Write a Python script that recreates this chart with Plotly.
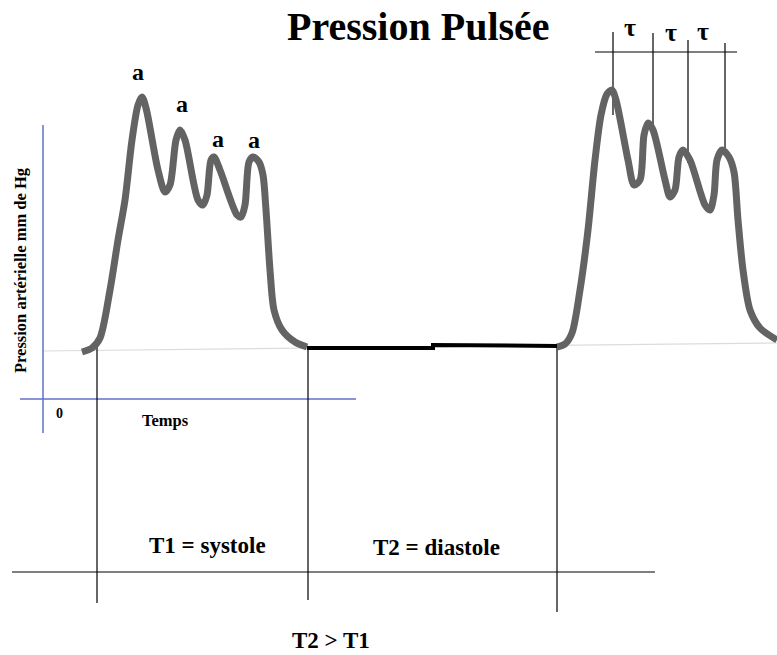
import plotly.graph_objects as go

W, H = 777, 655

# Pressure curve, first cycle (systole)
cyc1_x = [82, 92, 100, 110, 118, 125, 132, 138, 142, 146, 158, 165, 170, 176, 180, 185, 198, 203, 207, 211, 214, 220, 237, 241, 245, 249, 253, 259, 263, 266, 270, 274, 282, 295, 307]
cyc1_y = [352, 348, 338, 290, 240, 200, 140, 105, 97, 108, 170, 192, 185, 140, 130, 140, 200, 205, 195, 160, 157, 170, 215, 217, 205, 162, 157, 162, 175, 210, 270, 310, 330, 342, 347]

# Diastole plateau
dia_x = [307, 433, 433, 557]
dia_y = [348, 348, 345, 346]

# Second cycle
cyc2_x = [557, 565, 572, 580, 588, 595, 601, 607, 612, 616, 628, 634, 640, 644, 648, 653, 665, 670, 675, 679, 683, 690, 705, 710, 714, 717, 722, 729, 734, 738, 743, 750, 760, 777]
cyc2_y = [347, 344, 333, 290, 230, 160, 115, 94, 90, 100, 160, 185, 180, 135, 123, 130, 180, 197, 190, 157, 150, 160, 205, 210, 195, 160, 150, 157, 172, 220, 270, 310, 328, 340]

# "a" labels above first-cycle peaks
a_x = [138, 182, 218, 254]
a_y = [72, 104, 139, 140]

# tau markers on second cycle
tau_lines_x = [613, 653, 688, 725]
tau_lines_top = [32, 33, 40, 43]
tau_lines_bot = [115, 127, 163, 150]
tau_lbl_x = [630, 671, 703]
tau_lbl_y = [27, 32, 31]

fig = go.Figure()

def seg(xs, ys, color="black", width=1.2):
    fig.add_trace(go.Scatter(x=xs, y=ys, mode="lines",
                             line=dict(color=color, width=width), hoverinfo="skip"))

# faint baseline
seg([42, 777], [351, 343], "#dcdcdc", 1.2)

# blue axes
seg([43, 43], [125, 433], "#6170c8", 1.5)
seg([20, 356], [399, 399], "#6170c8", 1.5)

# vertical black lines for periods
for vx, y0, y1 in [(97, 343, 603), (308, 348, 600), (557, 346, 612)]:
    seg([vx, vx], [y0, y1])
# horizontal time line
seg([12, 655], [572, 572])

# tau lines
seg([595, 737], [52, 52])
for tx, t0, t1 in zip(tau_lines_x, tau_lines_top, tau_lines_bot):
    seg([tx, tx], [t0, t1])

# curves
for cx, cy in [(cyc1_x, cyc1_y), (cyc2_x, cyc2_y)]:
    fig.add_trace(go.Scatter(x=cx, y=cy, mode="lines",
                             line=dict(color="#636363", width=7, shape="spline", smoothing=0.8),
                             hoverinfo="skip"))
seg(dia_x, dia_y, "black", 4)

serif = "Liberation Serif"
ann = []
def txt(x, y, s, size, angle=0):
    ann.append(dict(x=x, y=y, text="<b>%s</b>" % s, showarrow=False,
                    xref="x", yref="y", textangle=angle,
                    font=dict(family=serif, size=size, color="black")))

txt(418, 26, "Pression Pulsée", 40)
for x, y in zip(a_x, a_y):
    txt(x, y, "a", 24)
for x, y in zip(tau_lbl_x, tau_lbl_y):
    txt(x, y, "τ", 26)
txt(59, 413, "0", 14)
txt(165, 420, "Temps", 16.5)
txt(20, 270, "Pression artérielle mm de Hg", 16.5, angle=-90)
txt(207, 545, "T1 = systole", 23)
txt(436, 547, "T2 = diastole", 23)
txt(331, 640, "T2 > T1", 23)

fig.update_layout(
    width=W, height=H, margin=dict(l=0, r=0, t=0, b=0),
    paper_bgcolor="white", plot_bgcolor="white", showlegend=False,
    xaxis=dict(range=[0, W], visible=False, fixedrange=True),
    yaxis=dict(range=[H, 0], visible=False, fixedrange=True),
    annotations=ann,
)
fig.write_html("out.html",
               config={"displayModeBar": False, "staticPlot": True},
               post_script="document.body.style.margin='0';document.body.style.overflow='hidden';")
